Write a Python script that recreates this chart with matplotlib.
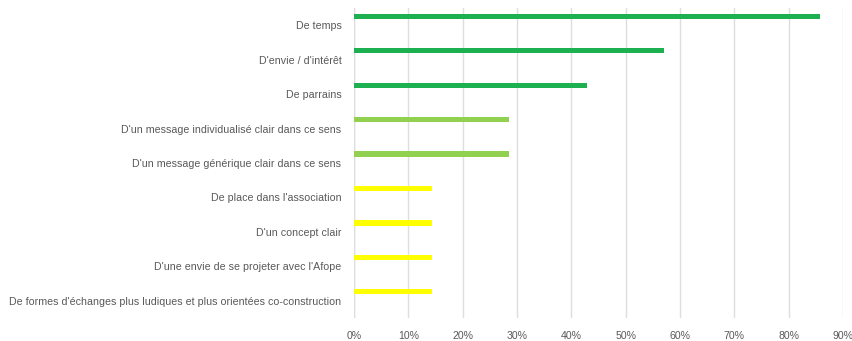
import matplotlib
matplotlib.use("Agg")
import matplotlib.pyplot as plt
from matplotlib.ticker import FuncFormatter, MultipleLocator

categories = [
    "De temps",
    "D'envie / d'intérêt",
    "De parrains",
    "D'un message individualisé clair dans ce sens",
    "D'un message générique clair dans ce sens",
    "De place dans l'association",
    "D'un concept clair",
    "D'une envie de se projeter avec l'Afope",
    "De formes d'échanges plus ludiques et plus orientées co-construction",
]
values = [0.857, 0.571, 0.429, 0.286, 0.286, 0.143, 0.143, 0.143, 0.143]
colors = ["#1DB050", "#1DB050", "#1DB050", "#92D050", "#92D050",
          "#FFFF00", "#FFFF00", "#FFFF00", "#FFFF00"]

plt.rcParams['font.family'] = ['Liberation Sans', 'DejaVu Sans']

fig = plt.figure(figsize=(8.52, 3.41), dpi=100)
ax = fig.add_axes([354/852, 1 - 318/341, (843 - 354)/852, (318 - 8)/341])

n = len(categories)
pos = list(range(n))
bar_pos = [p - 0.26 for p in pos]
ax.barh(bar_pos, values, height=0.15, color=colors, zorder=3)

ax.set_ylim(n - 0.5, -0.5)
ax.set_xlim(0, 0.9)
ax.xaxis.set_major_locator(MultipleLocator(0.1))
ax.xaxis.set_major_formatter(FuncFormatter(lambda v, p: f"{round(v*100)}%"))
ax.set_yticks(pos)
ax.set_yticklabels(categories)

ax.grid(axis='x', color='#dedede', linewidth=1, zorder=0)
for s in ax.spines.values():
    s.set_visible(False)
ax.axvline(0, color='#dedede', linewidth=1, zorder=1)
ax.tick_params(axis='y', length=0, labelsize=7.7, labelcolor='#595959', pad=9)
ax.tick_params(axis='x', length=0, labelsize=7.6, labelcolor='#595959', pad=9.5)

fig.savefig("out.png", dpi=100)
